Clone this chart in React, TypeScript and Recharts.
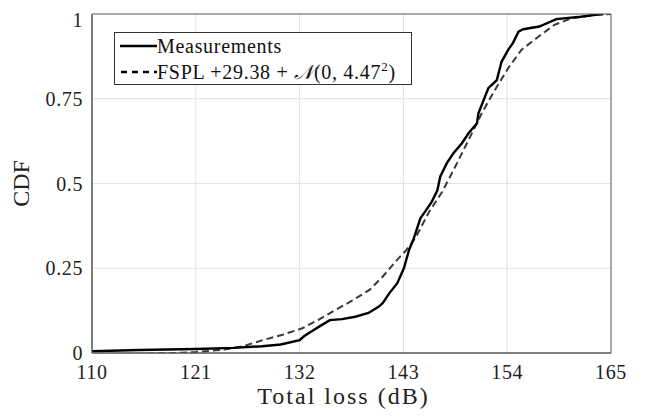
import { Line, LineChart, ReferenceLine, XAxis, YAxis } from "recharts";

// measured empirical CDF
const measLoss = [110, 115, 121, 125, 128, 130, 132, 132.5, 133.2, 134.2, 135.2, 136.5, 137.9, 139.3, 140.4, 140.8, 141.5, 142.35, 143.05, 143.6, 144.1, 144.8, 145.3, 146.0, 146.6, 146.9, 147.6, 148.3, 149.2, 149.9, 150.8, 150.95, 151.5, 152.0, 152.9, 153.4, 154.1, 154.6, 155.2, 155.7, 157.4, 159.2, 161.8, 163.75, 164.2];
const measCdf = [0.005, 0.009, 0.012, 0.015, 0.02, 0.025, 0.038, 0.05, 0.063, 0.08, 0.097, 0.1, 0.107, 0.118, 0.137, 0.147, 0.176, 0.206, 0.25, 0.304, 0.338, 0.397, 0.417, 0.446, 0.48, 0.52, 0.56, 0.589, 0.619, 0.648, 0.678, 0.707, 0.746, 0.781, 0.805, 0.859, 0.894, 0.914, 0.948, 0.955, 0.963, 0.985, 0.992, 0.999, 1];

// FSPL + 29.38 + N(0, 4.47^2)
const fitLoss = [110, 115, 119, 121, 124, 126, 128.1, 130.2, 132.3, 134, 135.8, 137.6, 139.4, 140.8, 142.5, 143.2, 144.25, 145.7, 147.1, 148.5, 149.9, 151.3, 152.7, 154.1, 155.5, 157.3, 159.0, 160.8, 163.3, 165];
const fitCdf = [-0.003, -0.002, 0, 0.003, 0.01, 0.02, 0.038, 0.054, 0.073, 0.098, 0.127, 0.155, 0.186, 0.225, 0.28, 0.3, 0.338, 0.415, 0.475, 0.55, 0.628, 0.707, 0.776, 0.84, 0.894, 0.933, 0.968, 0.987, 0.997, 1];

const xTicks = [110, 121, 132, 143, 154, 165];
const yTicks = [0, 0.25, 0.5, 0.75, 1];
const yTickLabels = ["0", "0.25", "0.5", "0.75", "1"];

const measData = measLoss.map((x, i) => ({ x, y: measCdf[i] }));
const fitData = fitLoss.map((x, i) => ({ x, y: fitCdf[i] }));

const FONT = '"Liberation Serif", "DejaVu Serif", serif';
const AX = "#555";
const GRID = "#e2e2e2";

export default function App() {
    const tickStyle = { fontSize: 20, fill: "#222", fontFamily: FONT, letterSpacing: 0.6 };
    const labelStyle = { fontSize: 24, fill: "#222", fontFamily: FONT, letterSpacing: 2 };
    return (
        <div style={{ position: "relative", width: 637, height: 410, fontFamily: FONT }}>
            <LineChart
                width={637}
                height={410}
                margin={{ top: 6, right: 34, left: 20, bottom: 35 }}
            >
                <XAxis
                    xAxisId="b"
                    type="number"
                    dataKey="x"
                    domain={[110, 165]}
                    ticks={xTicks}
                    allowDataOverflow
                    stroke={AX}
                    tickLine={false}
                    tickMargin={6}
                    height={30}
                    tick={tickStyle}
                    label={{ value: "Total loss (dB)", position: "bottom", offset: 4, dx: -8, style: labelStyle }}
                />
                <XAxis xAxisId="bm" type="number" dataKey="x" domain={[110, 165]} ticks={xTicks} mirror tick={false} tickSize={5} stroke={AX} />
                <XAxis xAxisId="t" orientation="top" type="number" dataKey="x" domain={[110, 165]} ticks={xTicks} mirror tick={false} tickSize={5} stroke={AX} />
                <YAxis
                    yAxisId="l"
                    type="number"
                    domain={[0, 1]}
                    ticks={yTicks}
                    allowDataOverflow
                    stroke={AX}
                    tickLine={false}
                    tickMargin={3}
                    width={64}
                    tick={tickStyle}
                    tickFormatter={(v: number) => yTickLabels[yTicks.indexOf(v)] ?? String(v)}
                    label={{ value: "CDF", angle: -90, position: "insideLeft", offset: -8, style: { ...labelStyle, letterSpacing: 0, textAnchor: "middle" } }}
                />
                <YAxis yAxisId="lm" type="number" domain={[0, 1]} ticks={yTicks} mirror tick={false} tickSize={5} stroke={AX} />
                <YAxis yAxisId="r" orientation="right" type="number" domain={[0, 1]} ticks={yTicks} mirror tick={false} tickSize={5} stroke={AX} />
                {xTicks.slice(1, -1).map((t) => (
                    <ReferenceLine key={`gx-${t}`} xAxisId="b" yAxisId="l" x={t} stroke={GRID} strokeWidth={1} />
                ))}
                {yTicks.slice(1, -1).map((t) => (
                    <ReferenceLine key={`gy-${t}`} xAxisId="b" yAxisId="l" y={t} stroke={GRID} strokeWidth={1} />
                ))}
                <Line
                    xAxisId="b"
                    yAxisId="l"
                    data={fitData}
                    dataKey="y"
                    type="linear"
                    stroke="#3a3a3a"
                    strokeWidth={2}
                    strokeDasharray="7 4"
                    dot={false}
                    isAnimationActive={false}
                />
                <Line
                    xAxisId="b"
                    yAxisId="l"
                    data={measData}
                    dataKey="y"
                    type="linear"
                    stroke="#000"
                    strokeWidth={2.4}
                    dot={false}
                    isAnimationActive={false}
                />
            </LineChart>
            <div
                style={{
                    position: "absolute",
                    left: 106,
                    top: 24,
                    width: 298,
                    height: 53,
                    border: "1px solid #333",
                    background: "#fff",
                    boxSizing: "border-box",
                    fontSize: 20,
                    letterSpacing: 0.7,
                    color: "#111",
                    lineHeight: "26px",
                    padding: "0 0 0 5px",
                    whiteSpace: "nowrap",
                }}
            >
                <div style={{ display: "flex", alignItems: "center" }}>
                    <svg width={37} height={10}>
                        <line x1={0} y1={5} x2={37} y2={5} stroke="#000" strokeWidth={2.4} />
                    </svg>
                    <span>Measurements</span>
                </div>
                <div style={{ display: "flex", alignItems: "center" }}>
                    <svg width={37} height={10}>
                        <line x1={1} y1={5} x2={37} y2={5} stroke="#000" strokeWidth={2.4} strokeDasharray="6 5" />
                    </svg>
                    <span>
                        FSPL +29.38 + <span style={{ fontStyle: "italic" }}>𝒩</span>(0, 4.47<sup style={{ fontSize: 13, lineHeight: 0 }}>2</sup>)
                    </span>
                </div>
            </div>
        </div>
    );
}
